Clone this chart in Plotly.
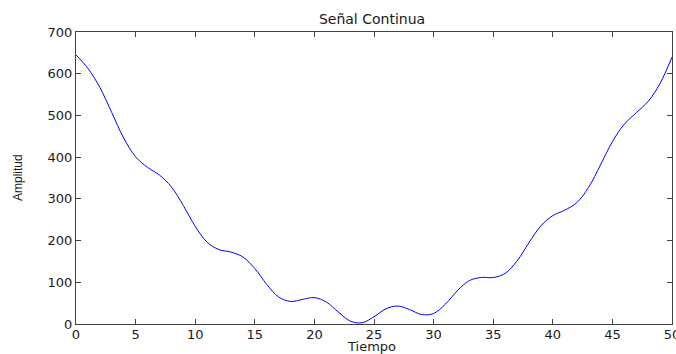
import plotly.graph_objects as go

# Sampled signal: time (s) and amplitude
tiempo = list(range(0, 51))
amplitud = [
    645.0, 612.8, 567.2, 506.8, 445.9, 400.8, 375.4, 357.1, 328.8, 284.2,
    234.1, 196.0, 178.3, 172.4, 160.8, 133.0, 95.2, 64.8, 54.0, 59.0,
    63.3, 52.7, 28.8, 7.1, 2.9, 17.4, 36.3, 43.1, 34.4, 22.7,
    25.2, 47.9, 80.0, 104.0, 111.6, 111.4, 121.2, 151.1, 194.9, 235.3,
    259.9, 272.8, 290.7, 327.4, 381.4, 437.0, 479.0, 506.5, 533.6, 576.9,
    639.8,
]
x_ticks = list(range(0, 51, 5))
y_ticks = list(range(0, 701, 100))

axis_color = "#404040"
text_color = "#1a1a1a"
tick_font = dict(family="DejaVu Sans", size=13, color=text_color)

# plot-area geometry in pixels (used to place the axis titles)
W, H = 676, 354
L, R, T, B = 76, 4, 32, 30
plot_w = W - L - R
plot_h = H - T - B

fig = go.Figure(
    go.Scatter(
        x=tiempo,
        y=amplitud,
        mode="lines",
        line=dict(color="#0000ff", width=1, shape="spline", smoothing=1.0),
        hoverinfo="skip",
    )
)

fig.update_layout(
    width=W,
    height=H,
    margin=dict(l=L, r=R, t=T, b=B, autoexpand=False),
    paper_bgcolor="white",
    plot_bgcolor="white",
    showlegend=False,
    title=dict(
        text="Señal Continua",
        x=372 / W,
        xanchor="center",
        xref="container",
        y=1 - 19 / H,
        yref="container",
        yanchor="middle",
        font=dict(family="DejaVu Sans", size=14, color=text_color),
    ),
    annotations=[
        dict(
            text="Tiempo",
            xref="paper", yref="paper",
            x=(371 - L) / plot_w, y=(H - B - 346) / plot_h,
            xanchor="center", yanchor="middle",
            showarrow=False,
            borderpad=0,
            font=dict(family="DejaVu Sans", size=13, color=text_color),
        ),
        dict(
            text="Amplitud",
            xref="paper", yref="paper",
            x=(18 - L) / plot_w, y=(H - B - 178) / plot_h,
            xanchor="center", yanchor="middle",
            textangle=-90,
            showarrow=False,
            font=dict(family="Liberation Sans", size=12, color=text_color),
        ),
    ],
)

fig.update_xaxes(
    range=[0, 50],
    tickvals=x_ticks,
    ticks="inside",
    ticklen=5,
    tickcolor=axis_color,
    showline=True,
    linecolor=axis_color,
    linewidth=1,
    mirror="ticks",
    showgrid=False,
    zeroline=False,
    tickfont=tick_font,
    ticklabelstandoff=-2,
    ticklabeloverflow="allow",
    automargin=False,
)

fig.update_yaxes(
    range=[0, 700],
    tickvals=y_ticks,
    ticks="inside",
    ticklen=5,
    tickcolor=axis_color,
    showline=True,
    linecolor=axis_color,
    linewidth=1,
    mirror="ticks",
    showgrid=False,
    zeroline=False,
    tickfont=tick_font,
    automargin=False,
)

fig.write_html("out.html")
